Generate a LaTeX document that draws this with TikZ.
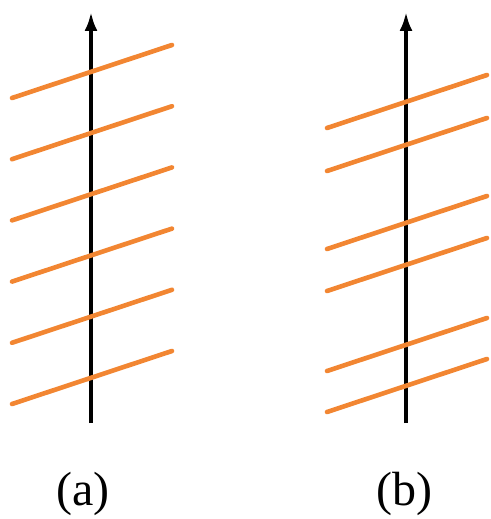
\documentclass[tikz,border=0pt]{standalone}
\usepackage{fontspec}
\setmainfont{Liberation Serif}
\usetikzlibrary{arrows.meta}
\definecolor{wire}{RGB}{242,134,50}
\tikzset{
  axis/.style={line width=3.6pt, -{Latex[length=19pt,width=13pt]}},
  turn/.style={wire, line width=4.6pt, line cap=round},
  lbl/.style={font=\fontsize{48}{52}\selectfont, inner sep=0pt}
}
\begin{document}
\begin{tikzpicture}[x=1pt,y=-1pt]
\useasboundingbox (0,0) rectangle (490,519);
% panel (a)
\coordinate (a0) at (91,423);
\coordinate (a1) at (91,12);
\draw[axis] (a0) -- (a1);
\foreach \k in {0,...,5}{
  \coordinate (al\k) at (12,{98+61.2*\k});
  \coordinate (ar\k) at (172,{45+61.2*\k});
  \draw[turn] (al\k) -- (ar\k);
}
% panel (b)
\coordinate (b0) at (406,423);
\coordinate (b1) at (406,12);
\draw[axis] (b0) -- (b1);
\foreach \y in {128,171,249,291,371,412}{
  \coordinate (bl\y) at (327,\y);
  \coordinate (br\y) at (487,{\y-53});
  \draw[turn] (bl\y) -- (br\y);
}
\node[lbl] (la) at (83,494) {(a)};
\node[lbl] (lb) at (404,494) {(b)};
\end{tikzpicture}
\end{document}
